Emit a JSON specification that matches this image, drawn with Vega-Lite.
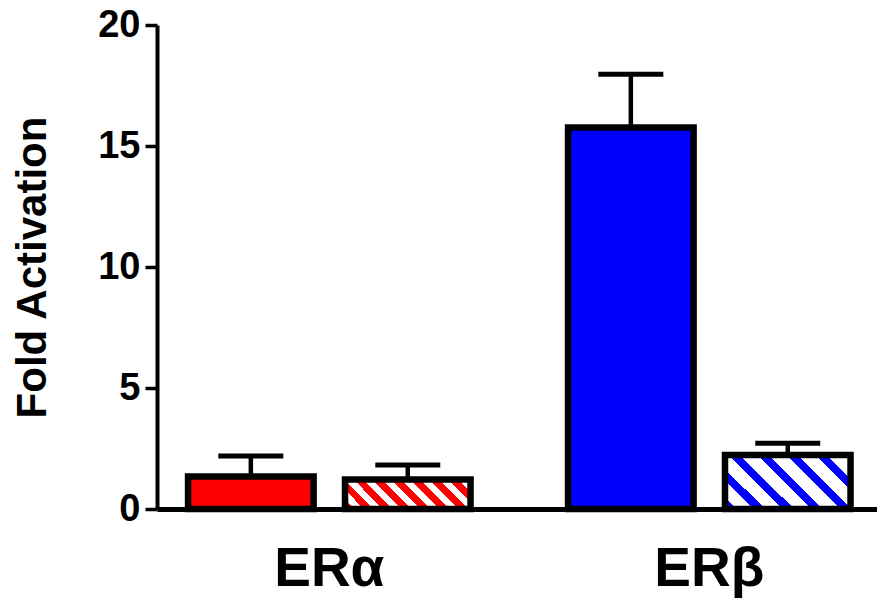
{
  "$schema": "https://vega.github.io/schema/vega-lite/v6.json",
  "width": 720,
  "height": 484,
  "autosize": {"type": "none"},
  "padding": {"left": 157, "top": 25, "right": 0, "bottom": 89},
  "background": "white",
  "config": {"view": {"stroke": null}},
  "data": {
    "values": [
      {"group": "ERα", "kind": "solid", "cond": "a1", "value": 1.34, "upper": 2.19},
      {"group": "ERα", "kind": "hatched", "cond": "a2", "value": 1.22, "upper": 1.82},
      {"group": "ERβ", "kind": "solid", "cond": "b1", "value": 15.76, "upper": 17.97},
      {"group": "ERβ", "kind": "hatched", "cond": "b2", "value": 2.23, "upper": 2.72}
    ]
  },
  "encoding": {
    "x": {
      "field": "group",
      "type": "nominal",
      "sort": ["ERα", "ERβ"],
      "scale": {"paddingInner": 0.2566, "paddingOuter": 0.0757, "align": 0.54},
      "axis": {
        "title": null,
        "labelAngle": 0,
        "ticks": false,
        "tickSize": 0,
        "domainColor": "black",
        "domainWidth": 5,
        "labelFont": "Liberation Sans",
        "labelFontWeight": "bold",
        "labelFontSize": 55,
        "labelColor": "black",
        "labelBaseline": "alphabetic",
        "labelPadding": 76,
        "encode": {"labels": {"update": {"dx": {"signal": "datum.value === 'ERβ' ? -25 : 6"}}}}
      }
    },
    "xOffset": {
      "field": "kind",
      "type": "nominal",
      "sort": ["solid", "hatched"],
      "scale": {"paddingInner": 0.2, "paddingOuter": 0}
    }
  },
  "layer": [
    {
      "mark": {"type": "bar", "stroke": "black", "strokeWidth": 6.5, "strokeJoin": "miter"},
      "encoding": {
        "y": {
          "field": "value",
          "type": "quantitative",
          "scale": {"domain": [0, 20], "nice": false},
          "axis": {
            "title": "Fold Activation",
            "values": [0, 5, 10, 15, 20],
            "grid": false,
            "domainColor": "black",
            "domainWidth": 4,
            "tickColor": "black",
            "tickWidth": 3.5,
            "tickSize": 12,
            "labelFont": "Liberation Sans",
            "labelFontWeight": "bold",
            "labelFontSize": 38,
            "labelColor": "black",
            "labelPadding": 5,
            "titleFont": "Liberation Sans",
            "titleFontWeight": "bold",
            "titleFontSize": 42,
            "titleColor": "black",
            "titleX": -112,
            "titleY": 242,
            "titleBaseline": "alphabetic",
            "titleAlign": "center"
          }
        },
        "fill": {
          "condition": [
            {
              "test": "datum.cond === 'a2'",
              "value": {
                "gradient": "linear",
                "x1": 0, "y1": 1, "x2": 1.1704, "y2": 0.7249,
                "stops": [
                  {"offset": 0, "color": "#FF0000"}, {"offset": 0.061, "color": "#FF0000"},
                  {"offset": 0.061, "color": "#FFFFFF"}, {"offset": 0.1225, "color": "#FFFFFF"},
                  {"offset": 0.1225, "color": "#FF0000"}, {"offset": 0.184, "color": "#FF0000"},
                  {"offset": 0.184, "color": "#FFFFFF"}, {"offset": 0.245, "color": "#FFFFFF"},
                  {"offset": 0.245, "color": "#FF0000"}, {"offset": 0.306, "color": "#FF0000"},
                  {"offset": 0.306, "color": "#FFFFFF"}, {"offset": 0.3675, "color": "#FFFFFF"},
                  {"offset": 0.3675, "color": "#FF0000"}, {"offset": 0.429, "color": "#FF0000"},
                  {"offset": 0.429, "color": "#FFFFFF"}, {"offset": 0.49, "color": "#FFFFFF"},
                  {"offset": 0.49, "color": "#FF0000"}, {"offset": 0.551, "color": "#FF0000"},
                  {"offset": 0.551, "color": "#FFFFFF"}, {"offset": 0.6125, "color": "#FFFFFF"},
                  {"offset": 0.6125, "color": "#FF0000"}, {"offset": 0.674, "color": "#FF0000"},
                  {"offset": 0.674, "color": "#FFFFFF"}, {"offset": 0.735, "color": "#FFFFFF"},
                  {"offset": 0.735, "color": "#FF0000"}, {"offset": 0.796, "color": "#FF0000"},
                  {"offset": 0.796, "color": "#FFFFFF"}, {"offset": 0.8575, "color": "#FFFFFF"},
                  {"offset": 0.8575, "color": "#FF0000"}, {"offset": 0.919, "color": "#FF0000"},
                  {"offset": 0.919, "color": "#FFFFFF"}, {"offset": 0.98, "color": "#FFFFFF"},
                  {"offset": 0.98, "color": "#FF0000"}, {"offset": 1, "color": "#FF0000"}
                ]
              }
            },
            {
              "test": "datum.cond === 'b2'",
              "value": {
                "gradient": "linear",
                "x1": 0, "y1": 1, "x2": 1.2069, "y2": 0.481,
                "stops": [
                  {"offset": 0, "color": "#0000FF"}, {"offset": 0.0614, "color": "#0000FF"},
                  {"offset": 0.0614, "color": "#FFFFFF"}, {"offset": 0.1615, "color": "#FFFFFF"},
                  {"offset": 0.1615, "color": "#0000FF"}, {"offset": 0.2229, "color": "#0000FF"},
                  {"offset": 0.2229, "color": "#FFFFFF"}, {"offset": 0.323, "color": "#FFFFFF"},
                  {"offset": 0.323, "color": "#0000FF"}, {"offset": 0.3844, "color": "#0000FF"},
                  {"offset": 0.3844, "color": "#FFFFFF"}, {"offset": 0.4845, "color": "#FFFFFF"},
                  {"offset": 0.4845, "color": "#0000FF"}, {"offset": 0.5459, "color": "#0000FF"},
                  {"offset": 0.5459, "color": "#FFFFFF"}, {"offset": 0.646, "color": "#FFFFFF"},
                  {"offset": 0.646, "color": "#0000FF"}, {"offset": 0.7074, "color": "#0000FF"},
                  {"offset": 0.7074, "color": "#FFFFFF"}, {"offset": 0.8075, "color": "#FFFFFF"},
                  {"offset": 0.8075, "color": "#0000FF"}, {"offset": 0.8689, "color": "#0000FF"},
                  {"offset": 0.8689, "color": "#FFFFFF"}, {"offset": 0.969, "color": "#FFFFFF"},
                  {"offset": 0.969, "color": "#0000FF"}, {"offset": 1, "color": "#0000FF"}
                ]
              }
            },
            {"test": "datum.cond === 'a1'", "value": "#FF0000"}
          ],
          "value": "#0000FF"
        }
      }
    },
    {
      "mark": {"type": "rule", "color": "black", "strokeWidth": 4.5},
      "encoding": {
        "y": {"field": "value", "type": "quantitative"},
        "y2": {"field": "upper"}
      }
    },
    {
      "mark": {"type": "tick", "color": "black", "opacity": 1, "thickness": 5, "size": 65},
      "encoding": {
        "y": {"field": "upper", "type": "quantitative"}
      }
    }
  ]
}
